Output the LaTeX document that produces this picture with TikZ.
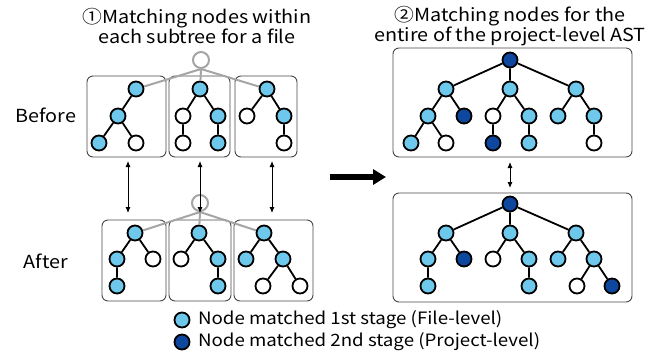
\documentclass[tikz,border=0pt]{standalone}
\usepackage{fontspec}
\setmainfont[FakeStretch=1.1]{Noto Sans CJK JP}
\usetikzlibrary{arrows.meta,positioning}
\definecolor{nodeblue}{RGB}{110,200,235}
\definecolor{deepblue}{RGB}{14,72,158}
\definecolor{rootgray}{RGB}{165,165,165}
\definecolor{boxgray}{RGB}{70,70,70}

\begin{document}
\begin{tikzpicture}[x=1pt,y=-1pt,
  every node/.style={font=\fontsize{17}{18}\selectfont},
  head/.style={font=\fontsize{18}{18}\selectfont,align=center},
  nd/.style={circle,draw=black,line width=1.8pt,minimum size=15pt,inner sep=0pt},
  lb/.style={nd,fill=nodeblue},
  db/.style={nd,fill=deepblue},
  wn/.style={nd,fill=white},
  gr/.style={circle,draw=rootgray,line width=2pt,minimum size=16pt,inner sep=0pt,fill=white},
  box/.style={draw=boxgray,line width=0.9pt,rounded corners=6pt,inner sep=0pt},
  edge/.style={line width=1.8pt},
  link/.style={rootgray,line width=2pt},
  pair/.style={{Latex[length=6pt,width=5pt]}-{Latex[length=6pt,width=5pt]},line width=0.9pt},
  txt/.style={inner sep=0pt}]
\useasboundingbox (0,0) rectangle (667,354);

% titles and row labels
\node[head] (T1) at (197,26) {①Matching nodes within\\each subtree for a file};
\node[head] (T2) at (510,26) {②Matching nodes for the\\entire of the project-level AST};
\node[head] (BF) at (46,115) {Before};
\node[head] (AF) at (46,261) {After};

% subtree boxes
\node[box,minimum width=79pt,minimum height=81pt] (BXA) at (126.5,116.5) {};
\node[box,minimum width=61pt,minimum height=81pt] (BXB) at (199.5,116.5) {};
\node[box,minimum width=62pt,minimum height=81pt] (BXC) at (266,116.5) {};
\node[box,minimum width=64pt,minimum height=81pt] (AXA) at (134,260.5) {};
\node[box,minimum width=62pt,minimum height=81pt] (AXB) at (200,260.5) {};
\node[box,minimum width=79pt,minimum height=81pt] (AXC) at (273.5,260.5) {};
\node[box,minimum width=239pt,minimum height=109pt] (PX) at (512.5,102.5) {};
\node[box,minimum width=239pt,minimum height=109pt] (QX) at (512.5,247.5) {};

% file roots
\node[gr] (RB) at (201,60) {};
\node[gr] (RA) at (200,203) {};

% before
\node[lb] (BA1) at (136,89) {};
\node[lb] (BA2) at (118,116) {};
\node[lb] (BA3) at (99,143) {};
\node[wn] (BA4) at (136,143) {};
\draw[edge] (BA1) -- (BA2) (BA2) -- (BA3) (BA2) -- (BA4);
\node[lb] (BB1) at (200,89) {};
\node[wn] (BB2) at (183,116) {};
\node[lb] (BB3) at (218,116) {};
\node[wn] (BB4) at (183,143) {};
\node[lb] (BB5) at (218,143) {};
\draw[edge] (BB1) -- (BB2) (BB1) -- (BB3) (BB2) -- (BB4) (BB3) -- (BB5);
\node[lb] (BC1) at (267,89) {};
\node[wn] (BC2) at (247,116) {};
\node[lb] (BC3) at (284,116) {};
\node[wn] (BC4) at (284,143) {};
\draw[edge] (BC1) -- (BC2) (BC1) -- (BC3) (BC3) -- (BC4);
\draw[link] (RB.south) -- (BA1) (RB.south) -- (BB1) (RB.south) -- (BC1);

% after
\node[lb] (AA1) at (135,233) {};
\node[lb] (AA2) at (117,259) {};
\node[wn] (AA3) at (153,259) {};
\node[lb] (AA4) at (117,286) {};
\draw[edge] (AA1) -- (AA2) (AA1) -- (AA3) (AA2) -- (AA4);
\node[lb] (AB1) at (199,233) {};
\node[wn] (AB2) at (181,259) {};
\node[lb] (AB3) at (218,259) {};
\node[lb] (AB4) at (218,286) {};
\draw[edge] (AB1) -- (AB2) (AB1) -- (AB3) (AB3) -- (AB4);
\node[lb] (AC1) at (264,233) {};
\node[lb] (AC2) at (246,259) {};
\node[lb] (AC3) at (283,259) {};
\node[wn] (AC4) at (263,286) {};
\node[wn] (AC5) at (300,286) {};
\draw[edge] (AC1) -- (AC2) (AC1) -- (AC3) (AC3) -- (AC4) (AC3) -- (AC5);
\draw[link] (RA.south) -- (AA1) (RA.south) -- (AB1) (RA.south) -- (AC1);

% before <-> after
\coordinate (L1) at (128,161); \coordinate (L2) at (128,213);
\coordinate (C1) at (200,161); \coordinate (C2) at (200,213);
\coordinate (R1) at (272,161); \coordinate (R2) at (272,213);
\draw[pair] (L1) -- (L2);
\draw[pair] (C1) -- (C2);
\draw[pair] (R1) -- (R2);

% big arrow
\coordinate (M1) at (330,177); \coordinate (M2) at (386,177);
\draw[line width=6pt,-{Triangle[length=13pt,width=15pt]}] (M1) -- (M2);

% project-level, before
\node[db] (PR) at (510,60) {};
\node[lb] (P1) at (446,89) {};
\node[lb] (P2) at (510,89) {};
\node[lb] (P3) at (576,89) {};
\node[lb] (P11) at (428,116) {};
\node[db] (P12) at (464,116) {};
\node[lb] (P111) at (411,143) {};
\node[wn] (P112) at (446,143) {};
\node[wn] (P21) at (493,116) {};
\node[lb] (P22) at (529,116) {};
\node[db] (P211) at (493,143) {};
\node[lb] (P221) at (529,143) {};
\node[lb] (P31) at (558,116) {};
\node[lb] (P32) at (594,116) {};
\node[wn] (P321) at (594,143) {};
\draw[edge] (PR) -- (P1) (PR) -- (P2) (PR) -- (P3);
\draw[edge] (P1) -- (P11) (P1) -- (P12) (P11) -- (P111) (P11) -- (P112);
\draw[edge] (P2) -- (P21) (P2) -- (P22) (P21) -- (P211) (P22) -- (P221);
\draw[edge] (P3) -- (P31) (P3) -- (P32) (P32) -- (P321);

% project-level, after
\node[db] (QR) at (510,204) {};
\node[lb] (Q1) at (446,233) {};
\node[lb] (Q2) at (510,233) {};
\node[lb] (Q3) at (576,233) {};
\node[lb] (Q11) at (428,259) {};
\node[db] (Q12) at (464,259) {};
\node[lb] (Q111) at (428,286) {};
\node[wn] (Q21) at (493,259) {};
\node[lb] (Q22) at (529,259) {};
\node[lb] (Q221) at (529,286) {};
\node[lb] (Q31) at (558,259) {};
\node[lb] (Q32) at (594,259) {};
\node[wn] (Q321) at (577,286) {};
\node[db] (Q322) at (612,286) {};
\draw[edge] (QR) -- (Q1) (QR) -- (Q2) (QR) -- (Q3);
\draw[edge] (Q1) -- (Q11) (Q1) -- (Q12) (Q11) -- (Q111);
\draw[edge] (Q2) -- (Q21) (Q2) -- (Q22) (Q22) -- (Q221);
\draw[edge] (Q3) -- (Q31) (Q3) -- (Q32) (Q32) -- (Q321) (Q32) -- (Q322);

\coordinate (S1) at (510,162); \coordinate (S2) at (510,188);
\draw[pair] (S1) -- (S2);

% legend
\node[lb] (K1) at (182,320) {};
\node[db] (K2) at (182,342) {};
\node[txt,right=7.5pt of K1] (K1T) {Node matched 1st stage (File-level)};
\node[txt,right=7.5pt of K2] (K2T) {Node matched 2nd stage (Project-level)};
\end{tikzpicture}
\end{document}
